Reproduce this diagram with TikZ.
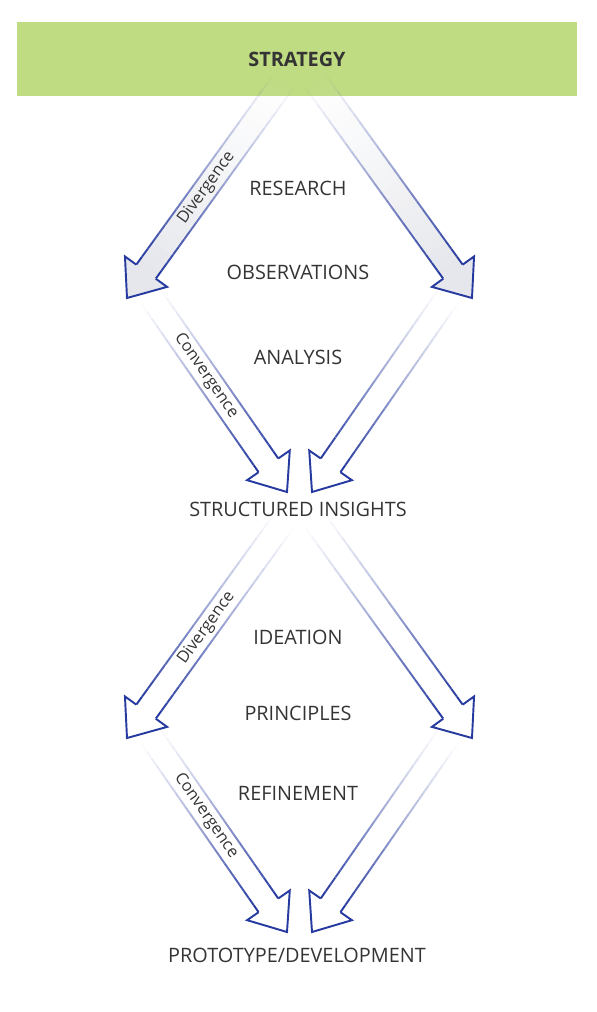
\documentclass[tikz,border=0pt]{standalone}
\usepackage{fontspec}
\setmainfont{Open Sans}
\usetikzlibrary{calc}
\definecolor{cStrat}{RGB}{191,220,130}
\definecolor{cArrow}{RGB}{38,58,160}
\definecolor{cText}{RGB}{52,52,52}
\definecolor{cGrey}{RGB}{230,231,236}

% block arrow from #1 to tip #2, filled with #3; the shaft fades in
\newcommand{\blockarrow}[3]{%
  \pgfpointdiff{\pgfpointanchor{#1}{center}}{\pgfpointanchor{#2}{center}}%
  \pgfgetlastxy{\arrdx}{\arrdy}%
  \pgfmathsetmacro\arrowang{atan2(\arrdy,\arrdx)}%
  \pgfmathsetmacro\arrowlen{veclen(\arrdx,\arrdy)}%
  \pgfmathsetmacro\shaftlen{\arrowlen-18.5}%
  \begin{scope}[shift={(#1)}, rotate=\arrowang]
    \foreach \i in {1,...,24} {
      \pgfmathsetmacro\xa{(\i-1)/24*\shaftlen}
      \pgfmathsetmacro\xb{\i/24*\shaftlen}
      \pgfmathsetmacro\op{(\i/24)^1.2}
      \fill[#3, opacity=\op] (\xa pt,-0.24cm) rectangle (\xb pt,0.24cm);
      \draw[arrowbody, opacity=\op] (\xa pt,0.24cm) -- (\xb pt,0.24cm)
        (\xa pt,-0.24cm) -- (\xb pt,-0.24cm);
    }
    \path[arrowbody, fill=#3] (\shaftlen pt,0.24cm) -- (\shaftlen pt,0.52cm)
      -- (\arrowlen pt,0cm) -- (\shaftlen pt,-0.52cm) -- (\shaftlen pt,-0.24cm);
  \end{scope}}

\begin{document}
\begin{tikzpicture}[x=0.02cm, y=-0.02cm,
  stage/.style={text=cText, font=\fontsize{11.3}{13}\selectfont, inner sep=1pt},
  arrowbody/.style={draw=cArrow, line width=1.1pt, line join=miter},
  arrowlabel/.style={sloped, text=cText, font=\fontsize{9.3}{11}\selectfont, inner sep=0pt}]

\useasboundingbox (0,0) rectangle (596,1012);

\node[fill=cStrat, minimum width=11.2cm, minimum height=1.48cm, inner sep=0pt,
  text=cText, font=\fontsize{11.3}{13}\selectfont\bfseries] (strategy) at (297,59) {STRATEGY};

% corners of the two diamonds
\foreach \d/\dy in {1/0, 2/440} {
  \coordinate (divLs\d) at (283,82+\dy);
  \coordinate (divLt\d) at (127,298+\dy);
  \coordinate (divRs\d) at (316,82+\dy);
  \coordinate (divRt\d) at (472,298+\dy);
  \coordinate (conLs\d) at (152,298+\dy);
  \coordinate (conLt\d) at (287,492+\dy);
  \coordinate (conRs\d) at (447,298+\dy);
  \coordinate (conRt\d) at (312,492+\dy);
}

\foreach \d/\fillc in {1/cGrey, 2/white} {
  \blockarrow{conLs\d}{conLt\d}{white}
  \blockarrow{conRs\d}{conRt\d}{white}
  \blockarrow{divLs\d}{divLt\d}{\fillc}
  \blockarrow{divRs\d}{divRt\d}{\fillc}
  \path (divLs\d) -- node[arrowlabel, pos=0.49] {Divergence} (divLt\d);
  \path (conLs\d) -- node[arrowlabel, pos=0.40] {Convergence} (conLt\d);
}

\node[stage] (research) at (298,188) {RESEARCH};
\node[stage] (observations) at (298,272) {OBSERVATIONS};
\node[stage] (analysis) at (298,357) {ANALYSIS};
\node[stage] (insights) at (298,509) {STRUCTURED INSIGHTS};
\node[stage] (ideation) at (298,637) {IDEATION};
\node[stage] (principles) at (298,713) {PRINCIPLES};
\node[stage] (refinement) at (298,793) {REFINEMENT};
\node[stage] (prototype) at (297,955) {PROTOTYPE/DEVELOPMENT};
\end{tikzpicture}
\end{document}
